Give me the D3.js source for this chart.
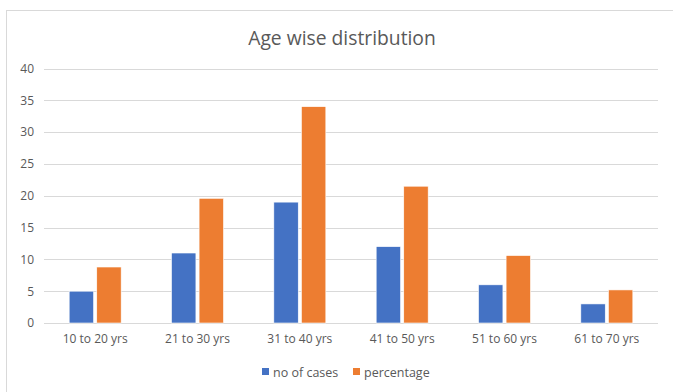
<!DOCTYPE html>
<html>
<head>
<meta charset="utf-8">
<script src="https://cdn.jsdelivr.net/npm/d3@7"></script>
<style>
  html, body { margin: 0; padding: 0; background: #ffffff; }
  svg { display: block; }
  text { font-family: "Open Sans", "Liberation Sans", sans-serif; fill: #595959; }
</style>
</head>
<body>
<svg id="chart" width="673" height="392"></svg>
<script>
const categories = ["10 to 20 yrs", "21 to 30 yrs", "31 to 40 yrs", "41 to 50 yrs", "51 to 60 yrs", "61 to 70 yrs"];
const seriesNames = ["no of cases", "percentage"];
const noOfCases = [5, 11, 19, 12, 6, 3];
const percentage = [8.8, 19.6, 34, 21.5, 10.6, 5.2];
const yTicks = [0, 5, 10, 15, 20, 25, 30, 35, 40];
const colors = ["#4472C4", "#ED7D31"];

const svg = d3.select("#chart");
const W = 673, H = 392;

// chart frame
svg.append("rect")
  .attr("x", 6.5).attr("y", 10.5)
  .attr("width", W + 10).attr("height", H + 10)
  .attr("fill", "#ffffff").attr("stroke", "#d9d9d9").attr("stroke-width", 1);

const x = d3.scaleBand().domain(categories).range([44, 658]).paddingInner(0).paddingOuter(0);
const y = d3.scaleLinear().domain([0, 40]).range([323, 68.5]);

// gridlines
svg.append("g").selectAll("line").data(yTicks).join("line")
  .attr("x1", 44).attr("x2", 658)
  .attr("y1", d => Math.round(y(d)) + 0.5).attr("y2", d => Math.round(y(d)) + 0.5)
  .attr("stroke", "#d9d9d9").attr("stroke-width", 1);

// y axis labels
const yAxis = d3.axisLeft(y).tickValues(yTicks).tickSize(0).tickPadding(0);
const gy = svg.append("g").attr("transform", "translate(34,0)").call(yAxis);
gy.select(".domain").remove();
gy.selectAll("text").attr("font-size", 12).style("font-family", '"Open Sans", "Liberation Sans", sans-serif').attr("fill", "#595959");

// x axis labels
const xAxis = d3.axisBottom(x).tickSize(0).tickPadding(0);
const gx = svg.append("g").attr("transform", "translate(0,334)").call(xAxis);
gx.select(".domain").remove();
gx.selectAll("text").attr("font-size", 12).style("font-family", '"Open Sans", "Liberation Sans", sans-serif').attr("fill", "#595959");

// bars
const inner = d3.scaleBand().domain(seriesNames).range([0, 52]).paddingInner(0.115).paddingOuter(0);
const offset = (x.bandwidth() - 52) / 2;
const series = [noOfCases, percentage];
series.forEach((vals, si) => {
  svg.append("g").selectAll("rect").data(categories).join("rect")
    .attr("x", (c) => x(c) + offset + inner(seriesNames[si]))
    .attr("y", (c, i) => y(vals[i]))
    .attr("width", inner.bandwidth())
    .attr("height", (c, i) => y(0) - y(vals[i]))
    .attr("fill", colors[si])
    .attr("stroke", "#ffffff").attr("stroke-width", 0.6);
});

// title
svg.append("text")
  .attr("x", 342).attr("y", 45)
  .attr("text-anchor", "middle")
  .attr("font-size", 19.3)
  .text("Age wise distribution");

// legend
const legend = svg.append("g");
const legendItems = [{ name: seriesNames[0], x: 262 }, { name: seriesNames[1], x: 353 }];
legendItems.forEach((d, i) => {
  legend.append("rect").attr("x", d.x).attr("y", 368).attr("width", 7).attr("height", 7).attr("fill", colors[i]);
  legend.append("text").attr("x", d.x + 11).attr("y", 376.5).attr("font-size", 12.5).text(d.name);
});
</script>
</body>
</html>
